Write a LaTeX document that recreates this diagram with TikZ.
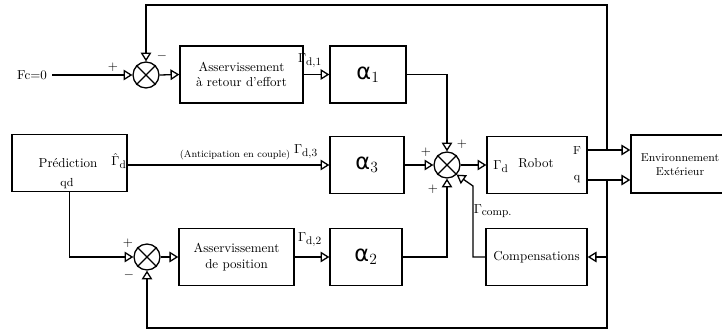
\documentclass[tikz,border=0pt]{standalone}
\usepackage{fontspec}
\newfontfamily\grk{DejaVu Sans}
\usetikzlibrary{arrows.meta,calc}
\newcommand{\sbx}[1]{\mbox{\fontsize{8.5}{9}\selectfont #1}}
\begin{document}
\begin{tikzpicture}[x=0.77pt,y=-0.77pt,
 blk/.style={draw,line width=1pt,minimum height=43.9pt,inner sep=1pt,align=center},
 sumnode/.style={draw,circle,line width=1pt,minimum size=20pt,inner sep=0pt},
 ln/.style={line width=1pt},
 arr/.style={ln,-{Triangle[open,length=6.8pt,width=8.2pt,line width=1pt]}},
 lbl/.style={inner sep=0pt},
 alph/.style={font=\LARGE}]
\useasboundingbox (0,0) rectangle (722,330);
\clip (0,0) rectangle (722,330);
% sums
\node[sumnode] (s1) at (146,75) {};
\node[sumnode] (s2) at (447,165) {};
\node[sumnode] (s3) at (147,257) {};
\foreach \s in {s1,s2,s3} \draw[ln] (\s.45) -- (\s.225) (\s.135) -- (\s.315);
% blocks
\node[blk,minimum width=94.7pt] (box1) at (241.5,74.5) {Asservissement\\à retour d'effort};
\node[blk,minimum width=58.5pt,alph] (a1) at (368,74.5) {{\grk α}$_1$};
\node[blk,minimum width=57pt,alph] (a3) at (367,165) {{\grk α}$_3$};
\node[blk,minimum width=55.4pt,alph] (a2) at (366,257) {{\grk α}$_2$};
\node[blk,minimum width=88.6pt] (box2) at (236.5,257) {Asservissement\\de position};
\node[blk,minimum width=88.6pt] (pred) at (69.5,163) {};
\node[blk,minimum width=77pt] (robot) at (537,165) {};
\node[blk,minimum width=84pt,minimum height=44.7pt] (env) at (685.5,164) {};
\node[blk,minimum width=77.8pt] (comp) at (536.5,257) {Compensations};
% texts
\node[lbl,align=center,font=\fontsize{8.8}{11}\selectfont] (envt) at (680,165) {Environnement\\Extérieur};
\node[lbl] (fc) at (32,75) {Fc=0};
\node[lbl] (predt) at (68,163) {Prédiction};
\node[lbl] (gh) at (119,161) {$\hat{\Gamma}_{\sbx{d}}$};
\node[lbl,font=\small] (qd) at (67,184) {qd};
\node[lbl] (gdr) at (501,167) {$\Gamma_{\sbx{d}}$};
\node[lbl] (robt) at (536,163) {Robot};
\node[lbl,font=\small] (Ft) at (577,151) {F};
\node[lbl,font=\small] (qt) at (577,179) {q};
\node[lbl] (g1) at (310,61) {$\Gamma_{\sbx{d,1}}$};
\node[lbl] (g3) at (306,152) {$\Gamma_{\sbx{d,3}}$};
\node[lbl,font=\fontsize{7.5}{9}\selectfont] (ant) at (235,155) {(Anticipation en couple)};
\node[lbl] (g2) at (310,240) {$\Gamma_{\sbx{d,2}}$};
\node[lbl] (gc) at (493,211) {$\Gamma_{\sbx{comp.}}$};
\node[lbl] (p1) at (113,67) {$+$};
\node[lbl] (m1) at (162,56) {$-$};
\node[lbl] (p2a) at (426,152) {$+$};
\node[lbl] (p2b) at (462,144) {$+$};
\node[lbl] (p2c) at (433,189) {$+$};
\node[lbl] (p3) at (128,243) {$+$};
\node[lbl] (m3) at (129,275) {$-$};
% coordinates
\coordinate (jF) at (607,150);
\coordinate (jq) at (607,180);
\coordinate (tp) at (607,5);
\coordinate (bt) at (607,328);
\coordinate (cb) at (473,186);
% connectors
\draw[arr] ($(fc.east)+(5,0)$) -- (s1.west);
\draw[arr] (s1.east) -- (box1.west);
\draw[arr] (box1.east) -- (a1.west);
\draw[arr] (a1.east) -| (s2.north);
\draw[arr] (pred.east |- a3.west) -- (a3.west);
\draw[arr] (a3.east) -- (s2.west);
\draw[arr] (s2.east) -- (robot.west);
\draw[arr] (a2.east) -| (s2.south);
\draw[arr] (comp.west) -| (cb) -- (s2.-45);
\draw[arr] (robot.east |- jF) -- (env.west |- jF);
\draw[arr] (robot.east |- jq) -- (env.west |- jq);
\draw[arr] (jF) -- (tp) -| (s1.north);
\draw[arr] (jq) -- (bt) -| (s3.south);
\draw[arr] (jq |- comp.east) -- (comp.east);
\draw[arr] (pred.south) |- (s3.west);
\draw[arr] (s3.east) -- (box2.west);
\draw[arr] (box2.east) -- (a2.west);
\end{tikzpicture}
\end{document}
